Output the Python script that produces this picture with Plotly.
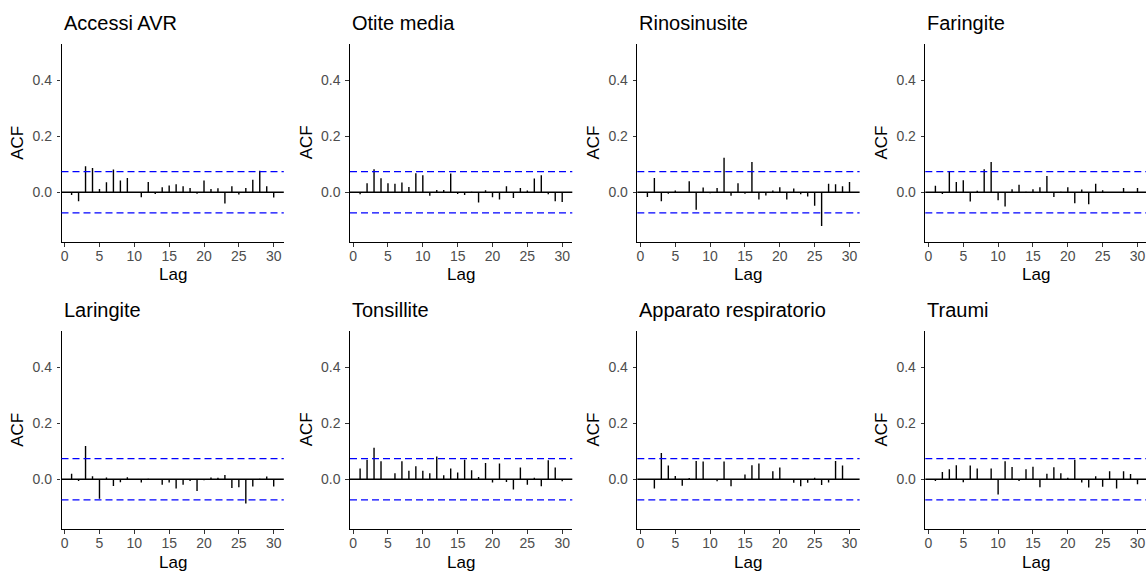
import plotly.graph_objects as go

# ---------------- data ----------------
lags = [1, 2, 3, 4, 5, 6, 7, 8, 9, 10, 11, 12, 13, 14, 15,
        16, 17, 18, 19, 20, 21, 22, 23, 24, 25, 26, 27, 28, 29, 30]

titles = ["Accessi AVR", "Otite media", "Rinosinusite", "Faringite",
          "Laringite", "Tonsillite", "Apparato respiratorio", "Traumi"]

acf_accessi_avr = [-0.010, -0.032, 0.093, 0.087, 0.012, 0.036, 0.081, 0.042, 0.051, 0.001,
                   -0.018, 0.037, -0.006, 0.018, 0.024, 0.029, 0.021, 0.015, -0.005, 0.042,
                   0.012, 0.014, -0.040, 0.021, -0.008, 0.015, 0.045, 0.077, 0.021, -0.019]
acf_otite_media = [-0.007, 0.032, 0.082, 0.050, 0.032, 0.030, 0.035, 0.019, 0.068, 0.061,
                   -0.013, 0.008, 0.008, 0.067, -0.006, -0.010, 0.002, -0.037, 0.007, -0.018,
                   -0.026, 0.021, -0.021, 0.015, 0.006, 0.049, 0.061, -0.007, -0.032, -0.035]
acf_rinosinusite = [-0.017, 0.051, -0.032, -0.005, 0.006, 0.001, 0.039, -0.063, 0.017, -0.004,
                    0.015, 0.123, -0.013, 0.032, -0.005, 0.108, -0.026, -0.012, 0.006, 0.018,
                    -0.026, 0.013, -0.007, -0.015, -0.048, -0.121, 0.030, 0.029, 0.021, 0.037]
acf_faringite = [0.023, -0.006, 0.074, 0.037, 0.043, -0.033, 0.005, 0.082, 0.108, -0.029,
                 -0.051, 0.011, 0.027, 0.002, 0.011, 0.018, 0.058, -0.017, 0.002, 0.018,
                 -0.039, 0.010, -0.043, 0.030, 0.007, 0.001, -0.001, 0.015, 0.001, 0.015]
acf_laringite = [0.020, -0.006, 0.119, 0.011, -0.070, 0.006, -0.024, -0.011, 0.007, 0.001,
                 -0.012, 0.002, -0.001, -0.020, -0.012, -0.033, -0.020, -0.006, -0.042, -0.004,
                 0.006, 0.005, 0.015, -0.031, -0.029, -0.087, -0.026, 0.002, 0.010, -0.026]
acf_tonsillite = [0.038, 0.070, 0.113, 0.064, 0.001, 0.021, 0.064, 0.030, 0.046, 0.030,
                  0.021, 0.081, 0.014, 0.038, 0.024, 0.070, 0.032, 0.008, 0.058, -0.012,
                  0.056, -0.010, -0.037, 0.042, -0.020, 0.005, -0.025, 0.068, 0.042, -0.007]
acf_apparato_respiratorio = [0.001, -0.033, 0.094, 0.049, 0.012, -0.023, 0.004, 0.065, 0.063, 0.001,
                             -0.007, 0.063, -0.025, -0.001, 0.017, 0.050, 0.056, 0.001, 0.029, 0.042,
                             0.001, -0.013, -0.025, -0.013, 0.005, -0.021, -0.012, 0.065, 0.049, 0.001]
acf_traumi = [-0.006, 0.026, 0.036, 0.050, -0.011, 0.049, 0.038, 0.001, 0.038, -0.055,
              0.064, 0.044, -0.006, 0.036, 0.045, -0.029, 0.020, 0.043, 0.021, 0.005,
              0.070, -0.012, -0.030, 0.011, -0.027, 0.029, -0.033, 0.029, 0.019, -0.018]

series = [acf_accessi_avr, acf_otite_media, acf_rinosinusite, acf_faringite,
          acf_laringite, acf_tonsillite, acf_apparato_respiratorio, acf_traumi]

n_obs = 705                      # series length -> confidence bound
ci = 1.96 / n_obs ** 0.5

x_ticks = [0, 5, 10, 15, 20, 25, 30]
y_ticks = [0.0, 0.2, 0.4]
y_tick_text = ["0.0", "0.2", "0.4"]

# ---------------- layout geometry (px) ----------------
W, H = 1146, 573
col_left = [61.5, 350.0, 637.3, 925.3]
panel_w = 222.3
row_top = [43.5, 330.5]
panel_h = 198.5
x_range = [-0.45, 31.45]
y_range = [-0.178, 0.532]
title_y = [23, 310]
lag_y = [274.5, 562.5]
acf_x_off = 43.5

FONT = "Liberation Sans, Arial, sans-serif"

fig = go.Figure()
layout = dict(width=W, height=H, margin=dict(l=0, r=0, t=0, b=0),
              paper_bgcolor="white", plot_bgcolor="white", showlegend=False,
              font=dict(family=FONT))
shapes = []
annotations = []

for i, (title, vals) in enumerate(zip(titles, series)):
    r, c = divmod(i, 4)
    k = i + 1
    sx = "" if k == 1 else str(k)
    left = col_left[c]
    right = min(left + panel_w, W)
    xr_max = x_range[0] + (right - left) / panel_w * (x_range[1] - x_range[0])
    top = row_top[r]
    bottom = top + panel_h

    xs, ys = [], []
    for lg, v in zip(lags, vals):
        xs += [lg, lg, None]
        ys += [0, v, None]
    fig.add_trace(go.Scatter(x=xs, y=ys, mode="lines",
                             line=dict(color="black", width=1.4),
                             xaxis="x" + sx, yaxis="y" + sx,
                             hoverinfo="skip", showlegend=False))

    common = dict(showline=True, linecolor="black", linewidth=1.3,
                  ticks="outside", ticklen=3.5, tickwidth=1.2, tickcolor="#333333",
                  tickfont=dict(size=14, color="#4D4D4D", family=FONT),
                  showgrid=False, zeroline=False, fixedrange=True)
    layout["xaxis" + sx] = dict(common, domain=[left / W, right / W],
                                range=[x_range[0], xr_max], tickvals=x_ticks,
                                ticklabelstandoff=-2, anchor="y" + sx)
    layout["yaxis" + sx] = dict(common, domain=[1 - bottom / H, 1 - top / H],
                                range=y_range, tickvals=y_ticks, ticktext=y_tick_text,
                                ticklabelstandoff=2, anchor="x" + sx)

    xd = "x" + sx + " domain"
    shapes.append(dict(type="line", xref=xd, x0=0, x1=1, yref="y" + sx, y0=0, y1=0,
                       line=dict(color="black", width=1.3), layer="above"))
    for yv in (ci, -ci):
        shapes.append(dict(type="line", xref=xd, x0=0, x1=1, yref="y" + sx, y0=yv, y1=yv,
                           line=dict(color="#0000FF", width=1.3, dash="7px,4px"),
                           layer="above"))

    annotations.append(dict(text=title, x=left / W, y=1 - title_y[r] / H,
                            xref="paper", yref="paper", xanchor="left", yanchor="middle",
                            showarrow=False, font=dict(size=20, color="black", family=FONT)))
    annotations.append(dict(text="Lag", x=(left + panel_w / 2) / W, y=1 - lag_y[r] / H,
                            xref="paper", yref="paper", xanchor="center", yanchor="middle",
                            showarrow=False, borderpad=0,
                            font=dict(size=17, color="black", family=FONT)))
    annotations.append(dict(text="ACF", x=(left - acf_x_off) / W,
                            y=1 - (top + panel_h / 2) / H,
                            xref="paper", yref="paper", xanchor="center", yanchor="middle",
                            textangle=-90, showarrow=False,
                            font=dict(size=17, color="black", family=FONT)))

layout["shapes"] = shapes
layout["annotations"] = annotations
fig.update_layout(**layout)
fig.write_html("out.html")
